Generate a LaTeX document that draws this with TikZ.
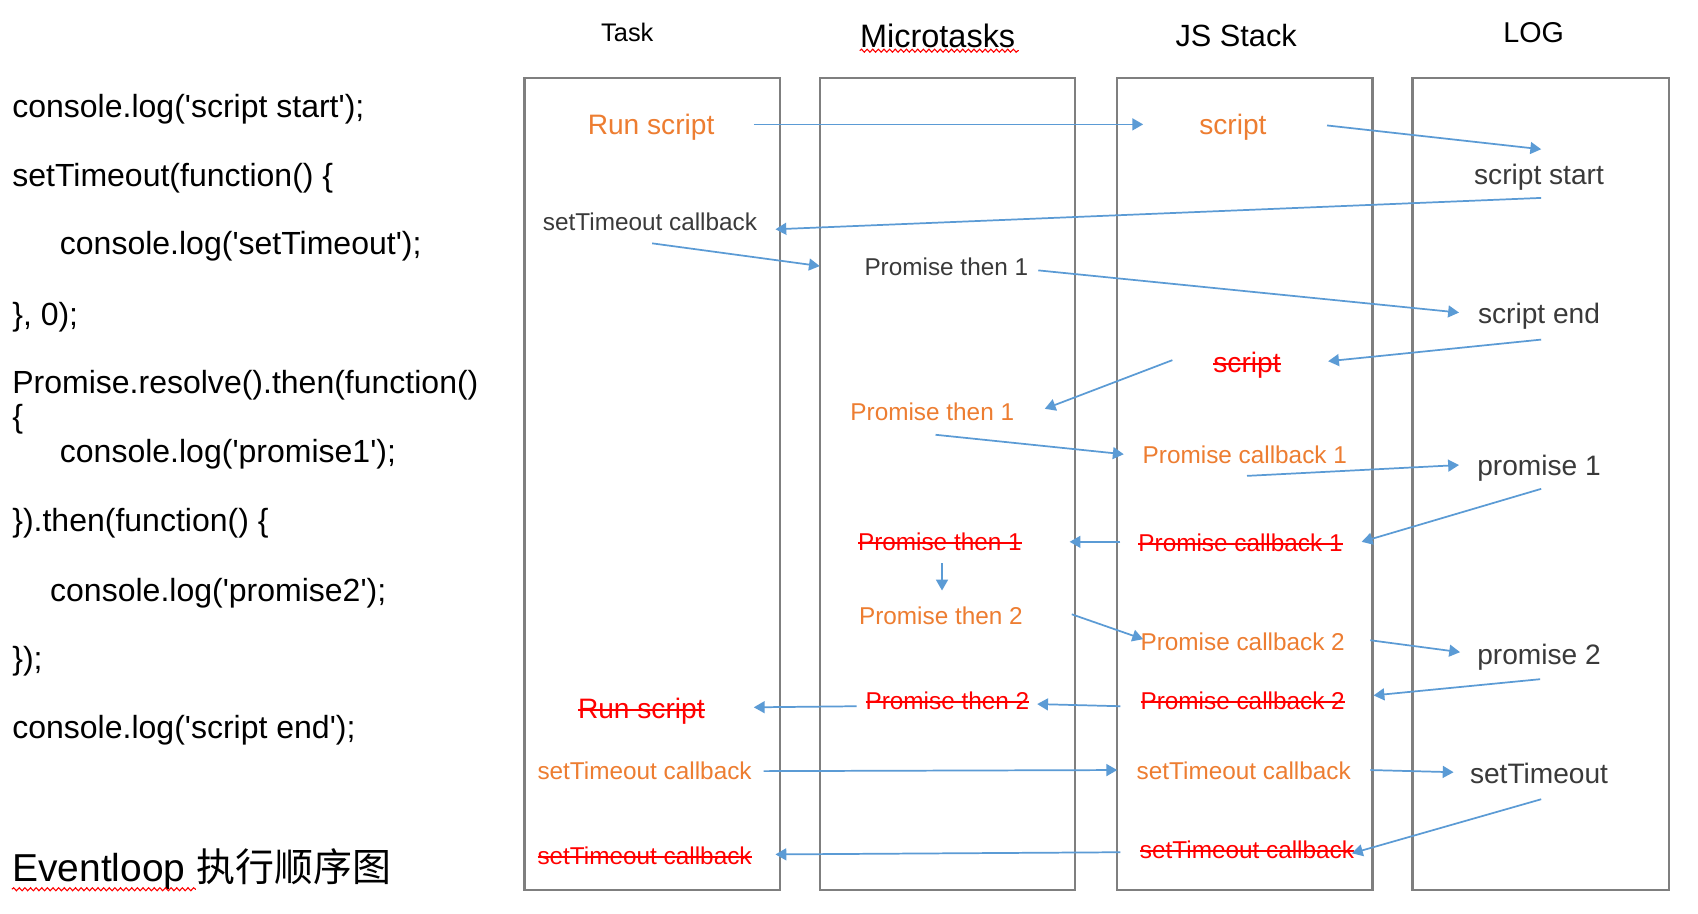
\documentclass[tikz,border=0pt]{standalone}
\usepackage{fontspec}
\setmainfont{Liberation Sans}
\newfontfamily\codefont{Liberation Sans}
\newfontfamily\cjkfont{Noto Sans CJK SC}
\newcommand\mystrike[1]{\setbox0\hbox{#1}\rlap{\raisebox{0.27em}{\rule{\wd0}{0.9pt}}}\box0}
\usetikzlibrary{arrows.meta,calc,decorations.pathmorphing}
\definecolor{orng}{HTML}{ED7D31}
\definecolor{arrblue}{HTML}{5B9BD5}
\definecolor{boxgray}{HTML}{7F7F7F}
\definecolor{txtgray}{HTML}{3A3A3A}
\definecolor{strk}{HTML}{FF0000}
\tikzset{
  colbox/.style={draw=boxgray, line width=1pt},
  codetxt/.style={anchor=west, inner sep=0pt, text depth=0pt, text=black, font=\codefont\fontsize{14.8}{17}\selectfont},
  hdr/.style={inner sep=0pt, text depth=0pt, text=black},
  smallor/.style={inner sep=0pt, text depth=0pt, text=orng, font=\fontsize{11.25}{13}\selectfont},
  bigor/.style={inner sep=0pt, text depth=0pt, text=orng, font=\fontsize{13}{15}\selectfont},
  smallgy/.style={inner sep=0pt, text depth=0pt, text=txtgray, font=\fontsize{11.25}{13}\selectfont},
  biggy/.style={inner sep=0pt, text depth=0pt, text=txtgray, font=\fontsize{13}{15}\selectfont},
  smallst/.style={inner sep=0pt, text depth=0pt, text=strk, font=\fontsize{11.25}{13}\selectfont},
  bigst/.style={inner sep=0pt, text depth=0pt, text=strk, font=\fontsize{13}{15}\selectfont},
  arr/.style={draw=arrblue, line width=0.8pt, -{Triangle[length=5pt,width=5.5pt]}},
  wavy/.style={draw=red, line width=0.5pt, decorate, decoration={snake, amplitude=0.7pt, segment length=2.6pt}}
}
\begin{document}
\begin{tikzpicture}[x=0.5pt, y=-0.5pt]
\useasboundingbox[fill=white] (0,0) rectangle (1570,845);

% column boxes
\draw[colbox] (485,72) rectangle (721,823);
\draw[colbox] (758,72) rectangle (994,823);
\draw[colbox] (1033,72) rectangle (1269,823);
\draw[colbox] (1306,72) rectangle (1543,823);

% headers
\node[hdr, font=\fontsize{11.75}{14}\selectfont] (htask) at (580,30) {Task};
\node[hdr, font=\fontsize{15}{17}\selectfont] (hmic) at (867,33) {Microtasks};
\node[hdr, font=\fontsize{14.2}{17}\selectfont] (hjs) at (1143,33) {JS Stack};
\node[hdr, font=\fontsize{13.25}{16}\selectfont] (hlog) at (1418,30) {LOG};
\draw[wavy] ($(hmic.base west)+(0,3)$) -- ($(hmic.base east)+(3,3)$);

% code
\node[codetxt] (c1) at (11,98) {console.log('script start');};
\node[codetxt] (c2) at (11,162) {setTimeout(function() \{};
\node[codetxt] (c3) at (55,225) {console.log('setTimeout');};
\node[codetxt] (c4) at (11,290) {\}, 0);};
\node[codetxt] (c5) at (11,353) {Promise.resolve().then(function()};
\node[codetxt] (c6) at (11,385) {\{};
\node[codetxt] (c7) at (55,417) {console.log('promise1');};
\node[codetxt] (c8) at (11,481) {\}).then(function() \{};
\node[codetxt] (c9) at (46,545) {console.log('promise2');};
\node[codetxt] (c10) at (11,608) {\});};
\node[codetxt] (c11) at (11,672) {console.log('script end');};
\node[codetxt, font=\fontsize{18}{21}\selectfont] (ev) at (11,800) {Eventloop {\cjkfont 执行顺序图}};
\draw[wavy] ($(ev.base west)+(0,7)$) -- ++(170,0);

% Task column
\node[bigor] (t1) at (602,115) {Run script};
\node[smallgy] (t2) at (601,205) {setTimeout callback};
\node[bigst] (t3) at (593,655) {\mystrike{Run script}};
\node[smallor] (t4) at (596,713) {setTimeout callback};
\node[smallst] (t5) at (596,791) {\mystrike{setTimeout callback}};

% Microtasks column
\node[smallgy] (m1) at (875,247) {Promise then 1};
\node[smallor] (m2) at (862,381) {Promise then 1};
\node[smallst] (m3) at (869,501) {\mystrike{Promise then 1}};
\node[smallor] (m4) at (870,569) {Promise then 2};
\node[smallst] (m5) at (876,648) {\mystrike{Promise then 2}};

% JS Stack column
\node[bigor] (j1) at (1140,115) {script};
\node[bigst] (j2) at (1153,335) {\mystrike{script}};
\node[smallor] (j3) at (1151,420) {Promise callback 1};
\node[smallst] (j4) at (1147,502) {\mystrike{Promise callback 1}};
\node[smallor] (j5) at (1149,593) {Promise callback 2};
\node[smallst] (j6) at (1149,648) {\mystrike{Promise callback 2}};
\node[smallor] (j7) at (1150,713) {setTimeout callback};
\node[smallst] (j8) at (1153,786) {\mystrike{setTimeout callback}};

% LOG column
\node[biggy] (l1) at (1423,161) {script start};
\node[biggy] (l2) at (1423,290) {script end};
\node[biggy] (l3) at (1423,430) {promise 1};
\node[biggy] (l4) at (1423,605) {promise 2};
\node[biggy] (l5) at (1423,715) {setTimeout};

% arrows
\draw[arr] ($(t1)+(95,0)$) -- ($(j1)+(-83,0)$);
\draw[arr] ($(j1)+(87,1)$) -- ($(l1)+(2,-23)$);
\draw[arr] ($(l1)+(2,22)$) -- ($(t2)+(116,7)$);
\draw[arr] ($(t2)+(2,20)$) -- ($(m1)+(-117,-1)$);
\draw[arr] ($(m1)+(85,3)$) -- ($(l2)+(-74,-1)$);
\draw[arr] ($(l2)+(2,24)$) -- ($(j2)+(75,-1)$);
\draw[arr] ($(j2)+(-69,-2)$) -- ($(m2)+(104,-3)$);
\draw[arr] ($(m2)+(3,21)$) -- ($(j3)+(-112,0)$);
\draw[arr] ($(j3)+(2,20)$) -- ($(l3)+(-74,0)$);
\draw[arr] ($(l3)+(2,22)$) -- ($(j4)+(112,-1)$);
\draw[arr] ($(j4)+(-111,-1)$) -- ($(m3)+(120,0)$);
\draw[arr] ($(m3)+(2,20)$) -- ($(m4)+(1,-23)$);
\draw[arr] ($(m4)+(121,-1)$) -- ($(j5)+(-92,-2)$);
\draw[arr] ($(j5)+(118,-1)$) -- ($(l4)+(-73,-2)$);
\draw[arr] ($(l4)+(1,23)$) -- ($(j6)+(121,-5)$);
\draw[arr] ($(j6)+(-113,5)$) -- ($(m5)+(83,3)$);
\draw[arr] ($(m5)+(-84,5)$) -- ($(t3)+(104,-1)$);
\draw[arr] ($(t4)+(110,0)$) -- ($(j7)+(-117,-1)$);
\draw[arr] ($(j7)+(117,-1)$) -- ($(l5)+(-79,-1)$);
\draw[arr] ($(l5)+(2,24)$) -- ($(j8)+(97,3)$);
\draw[arr] ($(j8)+(-117,2)$) -- ($(t5)+(121,-1)$);
\end{tikzpicture}
\end{document}
